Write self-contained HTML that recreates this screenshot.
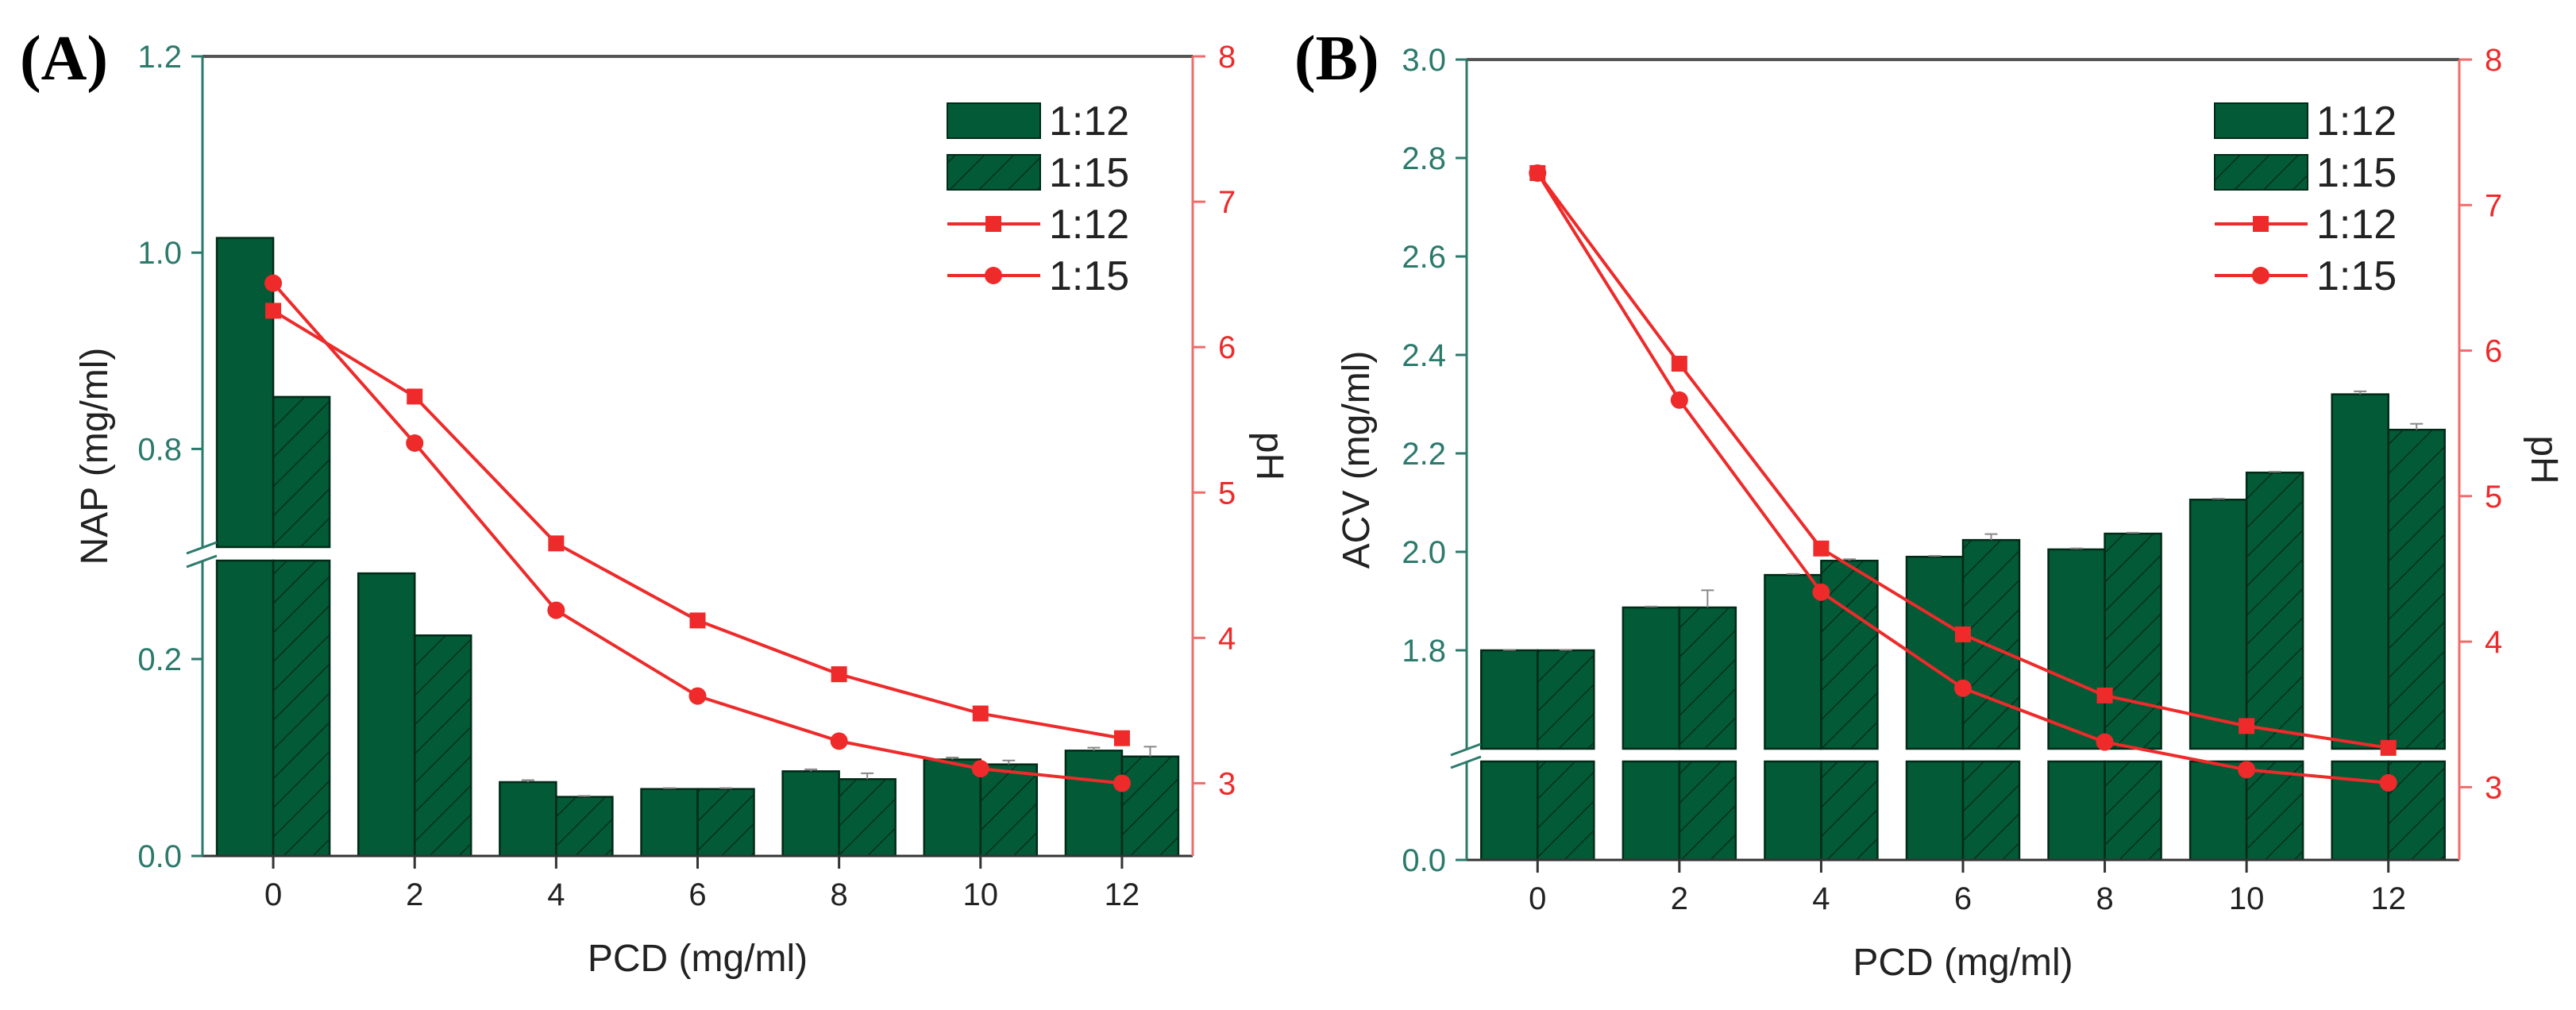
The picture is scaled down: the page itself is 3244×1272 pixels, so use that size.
<!DOCTYPE html>
<html><head><meta charset="utf-8">
<style>
html,body{margin:0;padding:0;background:#fff;}
svg{display:block;font-family:"Liberation Sans",Arial,sans-serif;}
</style></head>
<body>
<svg id="chart" width="3244" height="1272" viewBox="0 0 3244 1272" xmlns="http://www.w3.org/2000/svg">
<defs>
<pattern id="hatch" patternUnits="userSpaceOnUse" width="26" height="26" patternTransform="rotate(45)">
<rect width="26" height="26" fill="#035a36"/>
<line x1="0" y1="0" x2="0" y2="26" stroke="#02301c" stroke-width="3"/>
</pattern>
</defs>
</svg>
<script>
const categories = [0, 2, 4, 6, 8, 10, 12];
const napBar112 = [1.015, 0.287, 0.075, 0.068, 0.086, 0.098, 0.107];
const napBar115 = [0.853, 0.224, 0.060, 0.068, 0.078, 0.093, 0.101];
const napErr112 = [0, 0, 0.002, 0.001, 0.002, 0.002, 0.003];
const napErr115 = [0, 0, 0.001, 0.001, 0.006, 0.004, 0.010];
const napPh112 = [6.25, 5.66, 4.65, 4.12, 3.75, 3.48, 3.31];
const napPh115 = [6.44, 5.34, 4.19, 3.60, 3.29, 3.10, 3.00];
const acvBar112 = [1.80, 1.887, 1.953, 1.99, 2.005, 2.106, 2.32];
const acvBar115 = [1.80, 1.887, 1.982, 2.024, 2.037, 2.161, 2.248];
const acvErr112 = [0.001, 0.002, 0.002, 0.002, 0.002, 0.002, 0.006];
const acvErr115 = [0.001, 0.035, 0.003, 0.012, 0.002, 0.002, 0.012];
const acvPh112 = [7.22, 5.91, 4.64, 4.05, 3.63, 3.42, 3.27];
const acvPh115 = [7.22, 5.66, 4.34, 3.68, 3.31, 3.12, 3.03];
const napTicks = ["0.0", "0.2", "0.8", "1.0", "1.2"];
const napTickVals = [0, 0.2, 0.8, 1.0, 1.2];
const acvTicks = ["0.0", "1.8", "2.0", "2.2", "2.4", "2.6", "2.8", "3.0"];
const acvTickVals = [0, 1.8, 2.0, 2.2, 2.4, 2.6, 2.8, 3.0];
const phTicks = [3, 4, 5, 6, 7, 8];
const legendLabels = ["1:12", "1:15", "1:12", "1:15"];

const NS = "http://www.w3.org/2000/svg";
const svg = document.getElementById("chart");
function mk(tag, attrs, parent, text) {
  const e = document.createElementNS(NS, tag);
  for (const k in attrs) e.setAttribute(k, attrs[k]);
  if (text !== undefined) e.textContent = text;
  (parent || svg).appendChild(e);
  return e;
}

function panel(cfg) {
  const g = mk("g", {});
  
  
  const L = cfg.left, R = cfg.right, T = cfg.top, B = cfg.bottom;
  const xs = v => L + (v + 1) * (R - L) / 14;
  // broken y scale
  const yL = v => {
    if (v <= cfg.lowMax) return B - (v - 0) / cfg.lowMax * (B - cfg.lowTop);
    return cfg.upBottom - (v - cfg.upMin) / (cfg.upMax - cfg.upMin) * (cfg.upBottom - T);
  };
  const yR = v => B - (v - 2.5) / 5.5 * (B - T);
  const bw = 71;
  const teal = "#2b7a6b", red = "#ee2a2a", redAxis = "#f26b6b";

  // bars
  categories.forEach((c, i) => {
    [[cfg.bar112[i], 0, "#035a36", cfg.err112[i]], [cfg.bar115[i], 1, "url(#hatch)", cfg.err115[i]]].forEach(([v, k, fill, err]) => {
      const x0 = xs(c) - bw + k * bw;
      const segs = [];
      if (v > cfg.lowMax) {
        segs.push([yL(cfg.lowMax), B]);
        segs.push([yL(v), cfg.upBottom]);
      } else segs.push([yL(v), B]);
      segs.forEach(([y1, y2]) => {
        const r = mk("rect", {x: x0, y: y1, width: bw, height: y2 - y1, fill: fill, stroke: "#012a18", "stroke-width": 2.5}, g);
        
        
      });
      if (err > 0) {
        const xc = x0 + bw / 2, yt = yL(v + err);
        const eb = mk("path", {d: `M${xc} ${yL(v)}V${yt}M${xc - 8} ${yt}H${xc + 8}`, stroke: "#888", "stroke-width": 2, fill: "none"}, g);
        
        
      }
    });
  });

  // axes
  const top = mk("line", {x1: L, y1: T, x2: R, y2: T, stroke: "#555", "stroke-width": 4}, g);
  
  
  const bot = mk("line", {x1: L, y1: B, x2: R, y2: B, stroke: "#333", "stroke-width": 3}, g);
  
  
  const la1 = mk("line", {x1: L, y1: T, x2: L, y2: cfg.upBottom, stroke: teal, "stroke-width": 3}, g);
  
  
  const la2 = mk("line", {x1: L, y1: cfg.lowTop, x2: L, y2: B, stroke: teal, "stroke-width": 3}, g);
  
  
  const brk = mk("path", {d: `M${L - 20} ${cfg.upBottom + 8}L${L + 18} ${cfg.upBottom - 6}M${L - 20} ${cfg.lowTop + 8}L${L + 18} ${cfg.lowTop - 6}`, stroke: teal, "stroke-width": 3}, g);
  
  
  const ra = mk("line", {x1: R, y1: T, x2: R, y2: B, stroke: redAxis, "stroke-width": 3}, g);
  
  

  cfg.ticks.forEach((t, i) => {
    const y = yL(cfg.tickVals[i]);
    mk("line", {x1: L - 14, y1: y, x2: L, y2: y, stroke: teal, "stroke-width": 3}, g);
    const tx = mk("text", {x: L - 26, y: y + 14, "text-anchor": "end", "font-size": 40, fill: teal}, g, t);
    
    
  });
  phTicks.forEach(t => {
    const y = yR(t);
    mk("line", {x1: R, y1: y, x2: R + 16, y2: y, stroke: redAxis, "stroke-width": 3}, g);
    const tx = mk("text", {x: R + 32, y: y + 14, "font-size": 40, fill: red}, g, String(t));
    
    
  });
  categories.forEach(c => {
    const x = xs(c);
    mk("line", {x1: x, y1: B, x2: x, y2: B + 16, stroke: "#333", "stroke-width": 3}, g);
    const tx = mk("text", {x: x, y: B + 62, "text-anchor": "middle", "font-size": 40, fill: "#222"}, g, String(c));
    
    
  });

  // lines
  [[cfg.ph112, "sq"], [cfg.ph115, "ci"]].forEach(([arr, m]) => {
    const pts = categories.map((c, i) => xs(c) + "," + yR(arr[i])).join(" ");
    const pl = mk("polyline", {points: pts, fill: "none", stroke: red, "stroke-width": 4}, g);
    
    
    categories.forEach((c, i) => {
      const x = xs(c), y = yR(arr[i]);
      let mkr;
      if (m === "sq") mkr = mk("rect", {x: x - 10, y: y - 10, width: 20, height: 20, fill: red}, g);
      else mkr = mk("circle", {cx: x, cy: y, r: 11, fill: red}, g);
      
      
    });
  });

  // titles
  const xt = mk("text", {x: (L + R) / 2, y: B + 145, "text-anchor": "middle", "font-size": 48, fill: "#222"}, g, "PCD (mg/ml)");
  
  
  const yt = mk("text", {x: 0, y: 0, "text-anchor": "middle", "font-size": 48, fill: "#222", transform: `translate(${cfg.yTitleX},${(T + B) / 2}) rotate(-90)`}, g, cfg.yTitle);
  
  
  const pt = mk("text", {x: 0, y: 0, "text-anchor": "middle", "font-size": 48, fill: "#222", transform: `translate(${cfg.phTitleX},${(T + B) / 2}) rotate(90)`}, g, "pH");
  
  
  const pl = mk("text", {x: cfg.labelX, y: 100, "font-size": 80, "font-weight": "bold", fill: "#000", "font-family": "Liberation Serif, serif"}, g, cfg.label);
  
  

  // legend
  const lx = cfg.legX;
  const rows = [130, 195, 282, 347];
  legendLabels.forEach((lab, i) => {
    const lg = mk("g", {}, g);
    
    
    if (i < 2) mk("rect", {x: lx, y: rows[i], width: 117, height: 44, fill: i ? "url(#hatch)" : "#035a36", stroke: "#012a18", "stroke-width": 2}, lg);
    else {
      mk("line", {x1: lx, y1: rows[i], x2: lx + 117, y2: rows[i], stroke: red, "stroke-width": 4}, lg);
      if (i === 2) mk("rect", {x: lx + 48, y: rows[i] - 10, width: 20, height: 20, fill: red}, lg);
      else mk("circle", {cx: lx + 58, cy: rows[i], r: 11, fill: red}, lg);
    }
    const ty = i < 2 ? rows[i] + 40 : rows[i] + 18;
    mk("text", {x: lx + 128, y: ty, "font-size": 52, fill: "#222"}, lg, lab);
  });
}

panel({name: "panel-a-nap", left: 255, right: 1502, top: 71, bottom: 1078,
  lowMax: 0.3, lowTop: 706, upMin: 0.7, upMax: 1.2, upBottom: 689,
  bar112: napBar112, bar115: napBar115, err112: napErr112, err115: napErr115,
  ph112: napPh112, ph115: napPh115, ticks: napTicks, tickVals: napTickVals,
  yTitle: "NAP (mg/ml)", yTitleX: 135, phTitleX: 1583, label: "(A)", labelX: 25, legX: 1193});

panel({name: "panel-b-acv", left: 1847, right: 3097, top: 75, bottom: 1083,
  lowMax: 0.2, lowTop: 959, upMin: 1.6, upMax: 3.0, upBottom: 943,
  bar112: acvBar112, bar115: acvBar115, err112: acvErr112, err115: acvErr115,
  ph112: acvPh112, ph115: acvPh115, ticks: acvTicks, tickVals: acvTickVals,
  yTitle: "ACV (mg/ml)", yTitleX: 1724, phTitleX: 3188, label: "(B)", labelX: 1630, legX: 2789});
</script>
</body></html>
